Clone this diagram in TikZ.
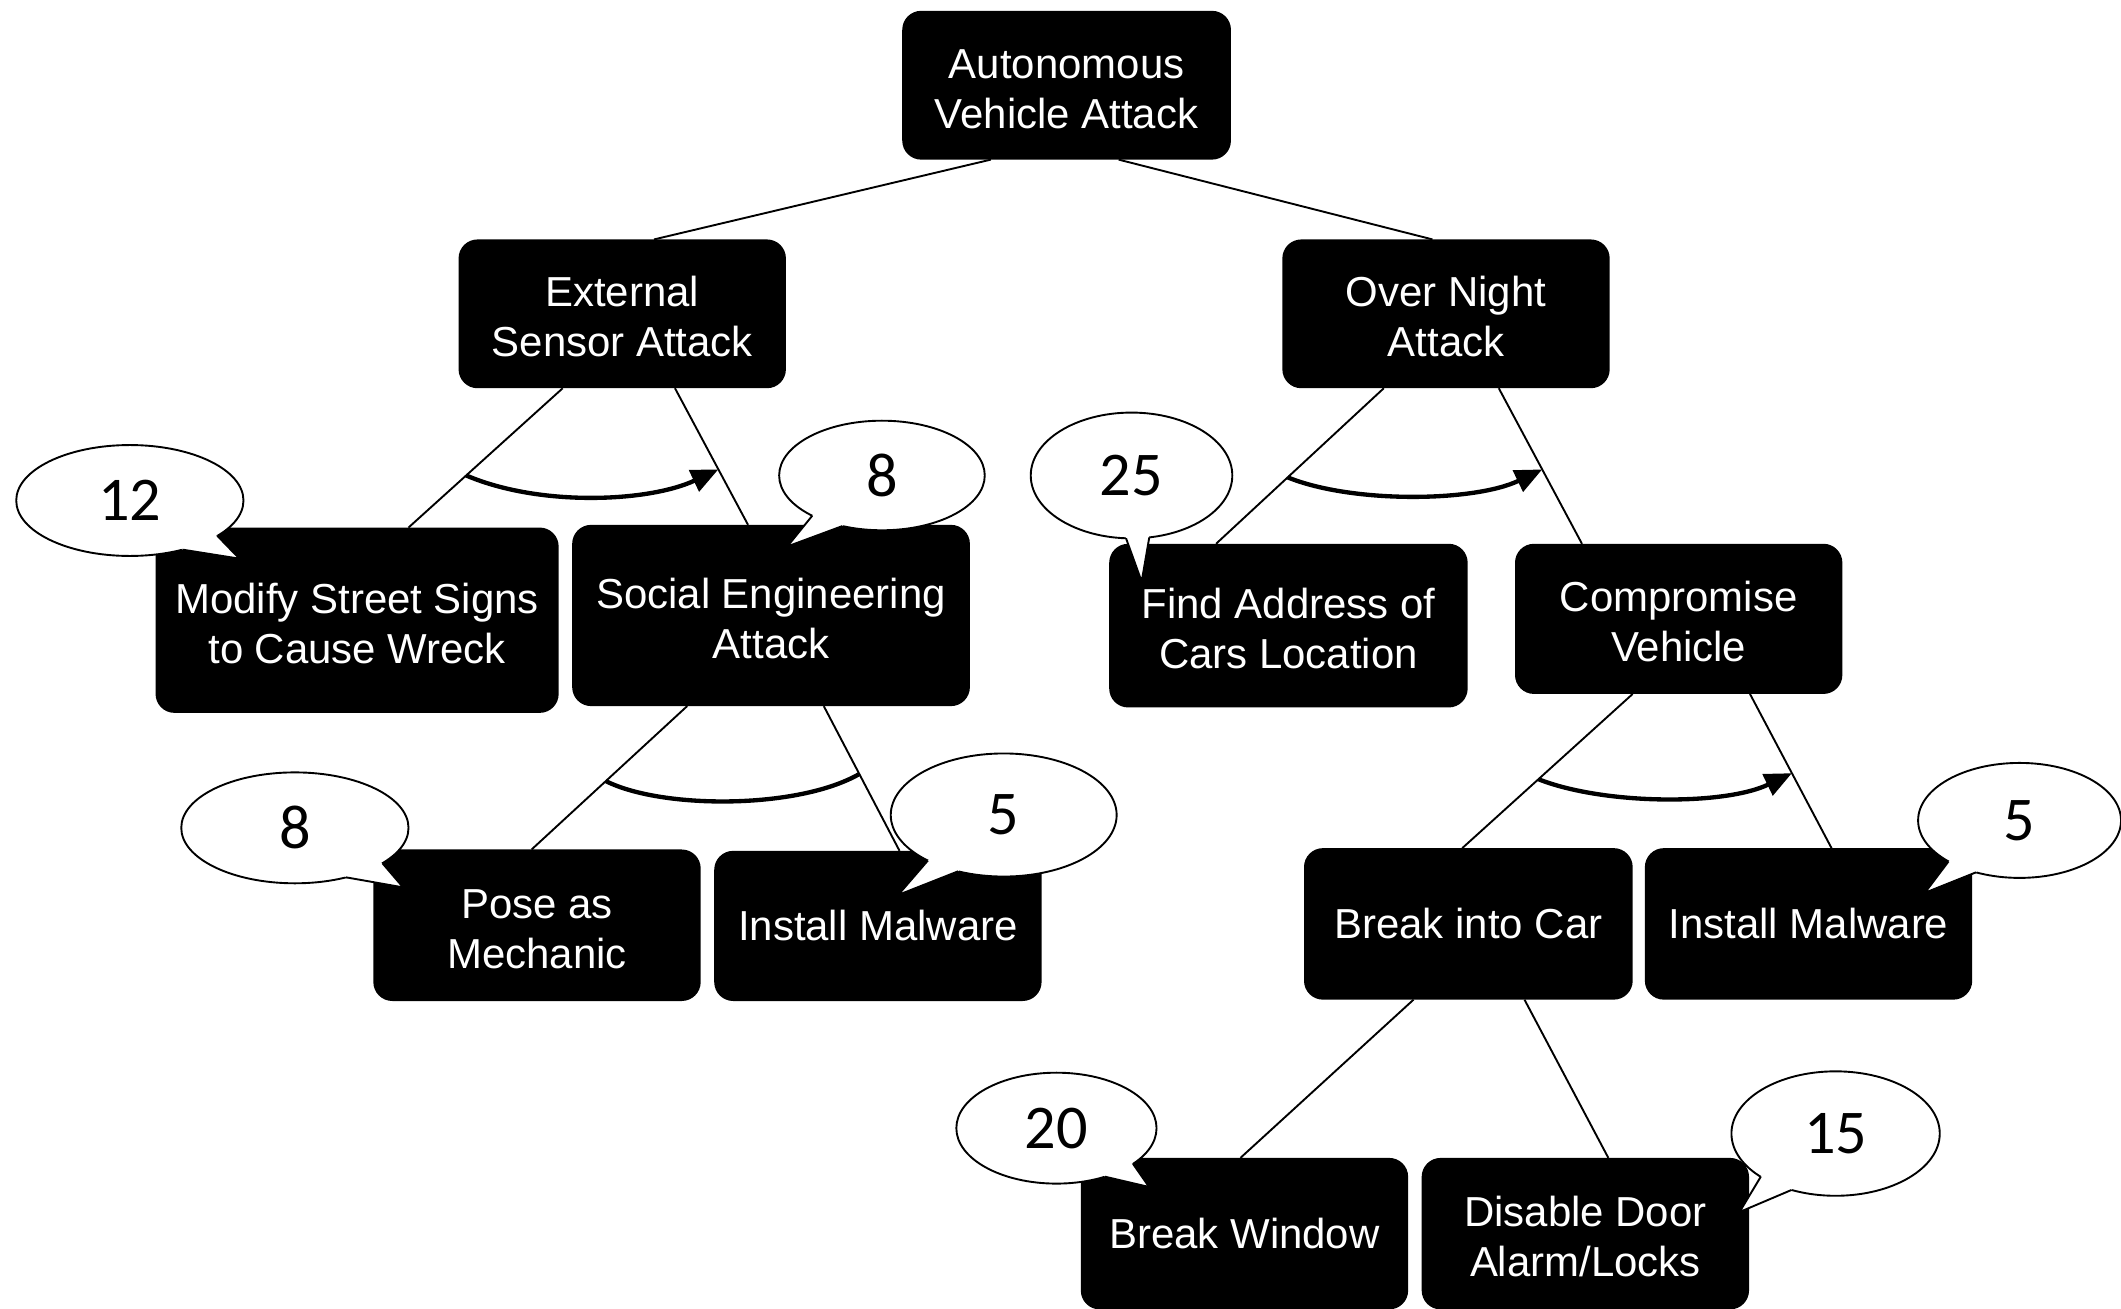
\documentclass[tikz,border=0pt]{standalone}
\usepackage{fontspec}
\setmainfont{Liberation Sans}
\newfontfamily\numfont{Carlito}
\usetikzlibrary{calc,arrows.meta,shapes.geometric}
\newcommand\mytail[4]{%
  \fill[white] ($(#1.center)!0.82!(#1.#2)$) -- (#1.#2) -- (#4) -- (#1.#3) -- ($(#1.center)!0.82!(#1.#3)$) -- cycle;
  \draw[tailline] (#1.#2) -- (#4) -- (#1.#3);}
\newcommand\tstrut{\rule{0pt}{27pt}}
\begin{document}
\begin{tikzpicture}[x=1pt,y=-1pt,
  box/.style 2 args={fill=black, rounded corners=14pt, text=white, align=center,
    inner sep=0pt, outer sep=0pt, minimum width=#1, minimum height=#2,
    font=\fontsize{31}{37}\selectfont},
  link/.style={line width=1.4pt},
  andarc/.style={line width=3.2pt},
  arrowarc/.style={line width=3.2pt, -{Triangle[length=20pt,width=17pt]}},
  bubble/.style 2 args={ellipse, draw=black, fill=white, line width=1.4pt,
    inner sep=0pt, outer sep=0pt, minimum width=#1, minimum height=#2,
    font=\numfont\fontsize{46}{46}\selectfont},
  tailline/.style={line width=1.4pt, line join=miter}
]
\useasboundingbox (0,0) rectangle (1568,967);

% boxes
\node[box={243}{110}] (top) at (788.5,63) {\tstrut Autonomous\\Vehicle Attack};
\node[box={242}{110}] (ext) at (460,232) {\tstrut External\\Sensor Attack};
\node[box={242}{110}] (on) at (1069,232) {\tstrut Over Night\\Attack};
\node[box={298}{137}] (mod) at (264,458.5) {\tstrut Modify Street Signs\\to Cause Wreck};
\node[box={294}{134}] (soc) at (570,455) {\tstrut Social Engineering\\Attack};
\node[box={265}{121}] (find) at (952.5,462.5) {\tstrut Find Address of\\Cars Location};
\node[box={242}{111}] (comp) at (1241,457.5) {\tstrut Compromise\\Vehicle};
\node[box={242}{112}] (pose) at (397,684) {\tstrut Pose as\\Mechanic};
\node[box={242}{111}] (im1) at (649,684.5) {Install Malware};
\node[box={243}{112}] (bic) at (1085.5,683) {Break into Car};
\node[box={242}{112}] (im2) at (1337,683) {Install Malware};
\node[box={242}{112}] (bw) at (920,912) {Break Window};
\node[box={242}{112}] (dis) at (1172,912) {\tstrut Disable Door\\Alarm/Locks};

% connectors
\coordinate (a1) at ($(top.south)+(-56,0)$);   \coordinate (b1) at ($(ext.north)+(23.5,0)$);
\coordinate (a2) at ($(top.south)+(38.5,0)$);  \coordinate (b2) at ($(on.north)+(-10,0)$);
\coordinate (a3) at ($(ext.south)+(-44,0)$);   \coordinate (b3) at ($(mod.north)+(38,0)$);
\coordinate (a4) at ($(ext.south)+(39,0)$);    \coordinate (b4) at ($(soc.north)+(-17,0)$);
\coordinate (a5) at ($(on.south)+(-46,0)$);    \coordinate (b5) at ($(find.north)+(-53.5,0)$);
\coordinate (a6) at ($(on.south)+(39,0)$);     \coordinate (b6) at ($(comp.north)+(-71.5,0)$);
\coordinate (a7) at ($(soc.south)+(-62,0)$);   \coordinate (b7) at ($(pose.north)+(-4,0)$);
\coordinate (a8) at ($(soc.south)+(39,0)$);    \coordinate (b8) at ($(im1.north)+(16,0)$);
\coordinate (a9) at ($(comp.south)+(-34,0)$);  \coordinate (b9) at ($(bic.north)+(-4.5,0)$);
\coordinate (a10) at ($(comp.south)+(52.7,0)$);\coordinate (b10) at ($(im2.north)+(17,0)$);
\coordinate (a11) at ($(bic.south)+(-40.5,0)$);\coordinate (b11) at ($(bw.north)+(-3,0)$);
\coordinate (a12) at ($(bic.south)+(41.5,0)$); \coordinate (b12) at ($(dis.north)+(17,0)$);
\foreach \i in {1,...,12} {\draw[link] (a\i) -- (b\i);}

% AND arcs
\draw[arrowarc] ($(a3)!0.626!(b3)$) .. controls +(55,23.5) and +(-51,24) .. ($(a4)!0.594!(b4)$);
\draw[arrowarc] ($(a5)!0.573!(b5)$) .. controls +(48,19.5) and +(-50,24) .. ($(a6)!0.522!(b6)$);
\draw[andarc] ($(a7)!0.523!(b7)$) .. controls +(42,21) and +(-45,26) .. ($(a8)!0.469!(b8)$);
\draw[arrowarc] ($(a9)!0.553!(b9)$) .. controls +(48,19) and +(-50,24) .. ($(a10)!0.514!(b10)$);

% speech bubbles
\node[bubble={168}{82}] (e12) at (96,370) {12};
\coordinate (t12) at (177,413);
\mytail{e12}{317}{338}{t12}

\node[bubble={152}{81}] (e8a) at (652,351.5) {8};
\coordinate (t8a) at (582,404);
\mytail{e8a}{210}{232}{t8a}

\node[bubble={149}{93}] (e25) at (836.5,351.5) {25};
\coordinate (t25) at (844,430);
\mytail{e25}{265}{286}{t25}

\node[bubble={150}{85}] (e5r) at (1493,606.5) {5};
\coordinate (t5r) at (1423,660);
\mytail{e5r}{210}{230}{t5r}

\node[bubble={168}{82}] (e8b) at (218,612) {8};
\coordinate (t8b) at (298,656);
\mytail{e8b}{316}{338}{t8b}

\node[bubble={167}{91}] (e5l) at (742,602.5) {5};
\coordinate (t5l) at (664,661.6);
\mytail{e5l}{211}{231}{t5l}

\node[bubble={148}{82}] (e20) at (781,834) {20};
\coordinate (t20) at (849.5,877.5);
\mytail{e20}{315}{335}{t20}

\node[bubble={154}{92}] (e15) at (1357,838) {15};
\coordinate (t15) at (1286,896);
\mytail{e15}{210}{232}{t15}
\end{tikzpicture}
\end{document}
